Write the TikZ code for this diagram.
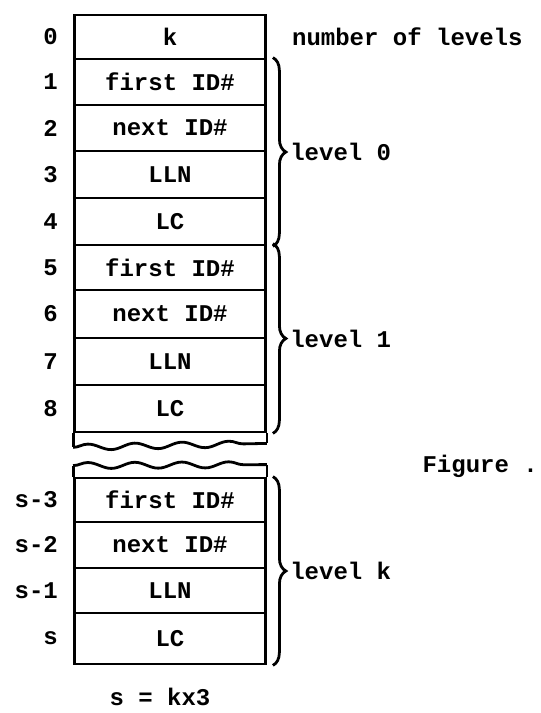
\documentclass[tikz,border=0pt]{standalone}
\usepackage{fontspec}
\setmainfont{Liberation Mono}
\usetikzlibrary{positioning,decorations.pathreplacing,decorations.pathmorphing}

\begin{document}
\begin{tikzpicture}[x=1pt,y=-1pt,
        txt/.style={font=\fontsize{24}{28}\selectfont\bfseries, inner sep=1pt},
        cell/.style={
            txt,
            draw,
            line width=2.8pt,
            minimum width=191pt
        },
        idx/.style={txt, anchor=east},
        lvbrace/.style={line width=2.8pt, decorate, decoration={brace, amplitude=13pt}},
        wavy/.style={line width=2.8pt, decorate, decoration={snake, segment length=47pt, amplitude=3pt}}
    ]
        \useasboundingbox (0,0) rectangle (541,713);

        % Parte alta: k e i livelli 0 e 1
        \foreach \nm/\ya/\yb/\t in {c0/15/59/k, c1/59/105/first ID\#, c2/105/151/next ID\#,
            c3/151/198/LLN, c4/198/245/LC, c5/245/290/first ID\#, c6/290/338/next ID\#,
            c7/338/385/LLN, c8/385/432/LC} {
            \node[cell, minimum height={\yb-\ya}] (\nm) at (170,{(\ya+\yb)/2}) {\t};
        }
        % Parte bassa: livello k
        \foreach \nm/\ya/\yb/\t in {d1/478/522/first ID\#, d2/522/568/next ID\#,
            d3/568/613/LLN, d4/613/664/LC} {
            \node[cell, minimum height={\yb-\ya}] (\nm) at (170,{(\ya+\yb)/2}) {\t};
        }

        % Indici a sinistra
        \foreach \nm/\i in {c0/0, c1/1, c2/2, c3/3, c4/4, c5/5, c6/6, c7/7, c8/8,
            d1/s-3, d2/s-2, d3/s-1, d4/s} {
            \node[idx, left=14pt of \nm.west] (i\nm) {\i};
        }

        % Bordi ondulati (taglio)
        \coordinate (wa) at ([yshift=-14pt]c8.south west);
        \coordinate (wb) at ([yshift=-10pt]c8.south east);
        \draw[line width=2.8pt] (c8.south west) -- (wa);
        \draw[line width=2.8pt] (c8.south east) -- (wb);
        \draw[wavy] (wa) -- (wb);
        \coordinate (wc) at ([yshift=11pt]d1.north west);
        \coordinate (wd) at ([yshift=12pt]d1.north east);
        \draw[line width=2.8pt] (d1.north west) -- (wc);
        \draw[line width=2.8pt] (d1.north east) -- (wd);
        \draw[wavy] (wc) -- (wd);

        % Graffe dei livelli
        \draw[lvbrace] ([xshift=6pt]c1.north east) -- ([xshift=6pt]c4.south east)
            node[txt, midway, anchor=west, xshift=15pt] (lv0) {level 0};
        \draw[lvbrace] ([xshift=6pt]c5.north east) -- ([xshift=6pt]c8.south east)
            node[txt, midway, anchor=west, xshift=15pt] (lv1) {level 1};
        \draw[lvbrace] ([xshift=6pt]d1.north east) -- ([xshift=6pt]d4.south east)
            node[txt, midway, anchor=west, xshift=15pt] (lvk) {level k};

        \node[txt, right=24pt of c0] (nlev) {number of levels};
        \node[txt, anchor=east] (fig) at (539,466) {Figure .};
        \node[txt] (form) at (160,697) {s = kx3};
    \end{tikzpicture}
\end{document}
